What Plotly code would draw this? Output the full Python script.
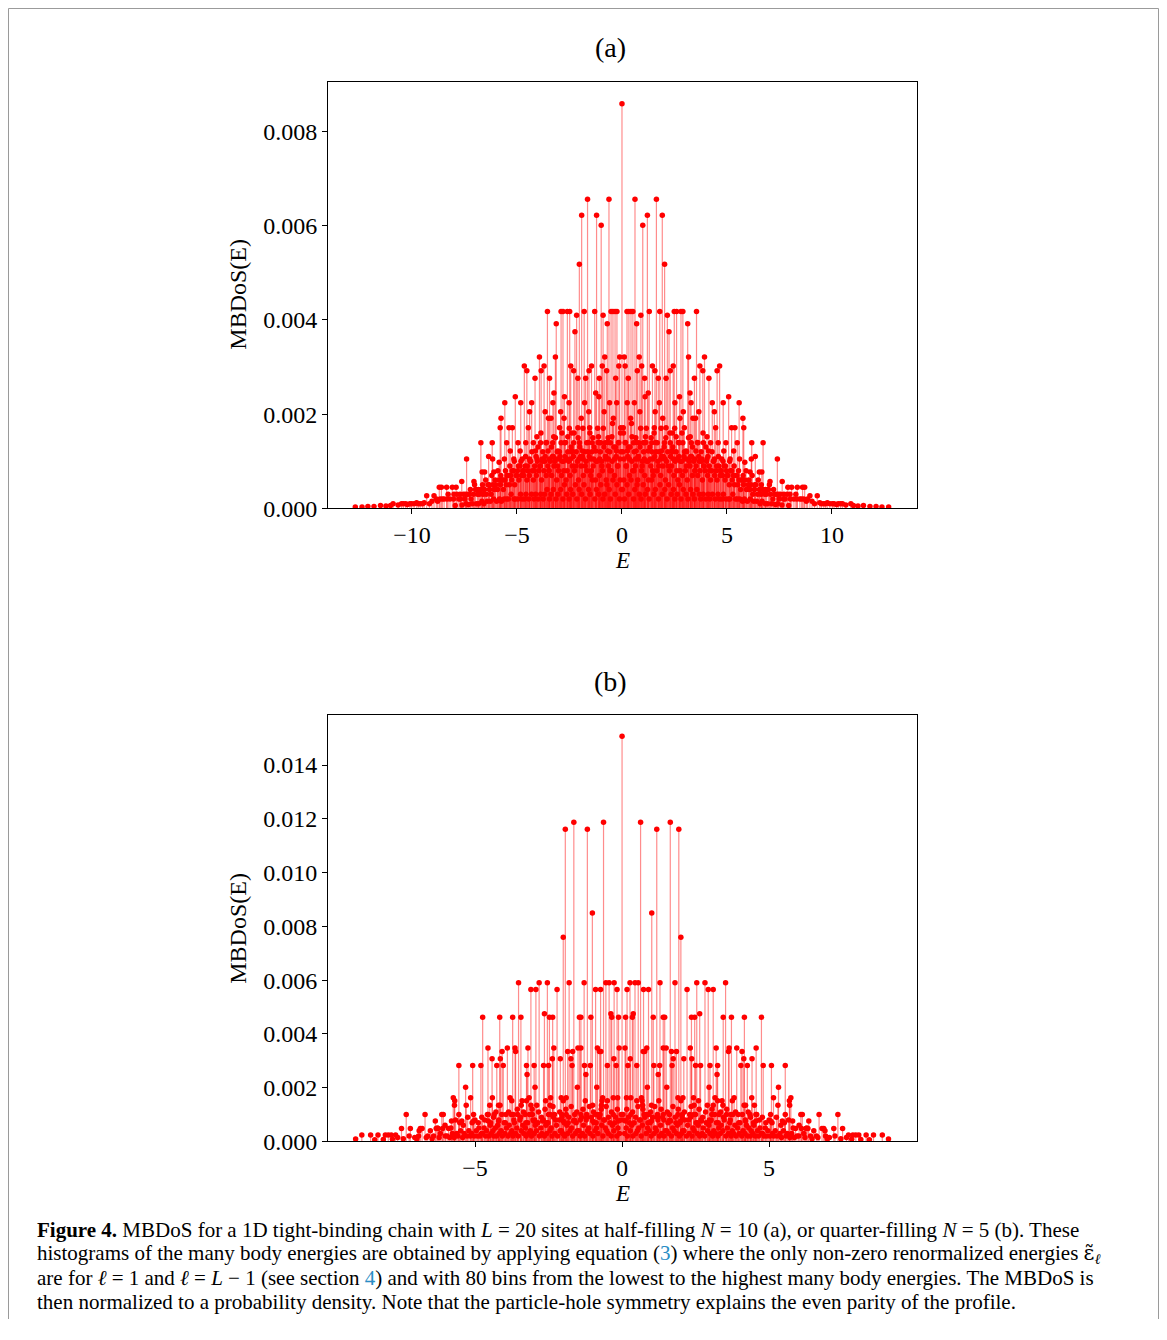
import plotly.graph_objects as go

# ---------------- data (positive-E half; profile is even) -------------
# Panel (a): L=20, N=10
a_center_e = [0.0]
a_center_v = [0.00859]
a_levels = [0.00656, 0.00622, 0.00601, 0.00518, 0.00418, 0.00410, 0.00392, 0.00375,
            0.00321, 0.00302, 0.00292, 0.00276, 0.00245, 0.00237, 0.00224, 0.00205,
            0.00191, 0.00171, 0.00160, 0.00152, 0.00139, 0.00122, 0.00110, 0.00105,
            0.00098, 0.00077, 0.00057, 0.00045, 0.00027, 0.00010, 0.00006, 0.00004, 0.00003]
a_positions = [
    [0.62, 1.64],
    [1.21, 1.92],
    [0.99],
    [2.03],
    [0.24, 0.33, 0.43, 0.52, 1.30, 1.80, 2.49, 2.60, 2.81, 2.90, 3.55],
    [0.90, 2.16],
    [0.70, 3.13],
    [2.24],
    [0.11, 0.82, 3.17, 3.93],
    [0.15, 0.94, 1.45, 2.44, 3.71, 4.65],
    [0.73, 1.57, 2.30, 3.85, 4.53],
    [0.30, 1.08, 1.73, 2.10, 3.45, 4.14],
    [1.25, 3.24],
    [1.10, 2.74, 5.08],
    [0.25, 0.59, 1.78, 2.52, 3.29, 4.30, 4.82, 5.58],
    [0.85, 1.58, 2.92, 3.66, 4.40],
    [0.41, 1.94, 2.76, 3.38, 3.50, 5.76],
    [0.06, 1.54, 2.10, 2.97, 4.46, 5.22, 5.38, 5.80],
    [2.40, 3.86],
    [0.48, 1.12, 2.58, 3.25, 4.05],
    [0.15, 0.55, 0.80, 1.02, 1.42, 1.68, 2.02, 2.30, 2.72, 2.90, 3.30, 3.62, 3.88,
     4.22, 4.58, 4.95, 5.49, 6.18, 6.72],
    [0.26, 0.68, 1.25, 1.88, 2.38, 3.05, 3.52, 4.12, 4.85, 5.32],
    [6.35],
    [0.10, 0.35, 0.65, 0.76, 1.06, 1.35, 1.48, 1.85, 2.05, 2.45, 2.62, 3.00, 3.15,
     3.45, 3.80, 4.05, 4.40, 4.75, 5.15, 5.60, 6.16, 7.40],
    [5.85],
    [6.10, 6.54, 6.66],
    [7.05, 7.63],
    [7.90, 8.08, 8.35, 8.60, 8.70],
    [8.95, 9.30],
    [9.50, 9.70, 9.90, 10.10, 10.30, 10.50, 10.90],
    [11.50],
    [12.10],
    [12.70],
]
# dense low "carpet" of panel (a), values in units of 1e-4
a_mid_e = [
    0.07, 0.19, 0.31, 0.45, 0.57, 0.66, 0.77, 0.89, 0.96, 1.07,
    1.16, 1.24, 1.39, 1.46, 1.53, 1.63, 1.75, 1.86, 1.97, 2.09,
    2.20, 2.28, 2.40, 2.51, 2.61, 2.69, 2.79, 2.86, 2.98, 3.07,
    3.17, 3.28, 3.36, 3.47, 3.59, 3.68, 3.77, 3.89, 4.00, 4.09,
    4.18, 4.29, 4.38, 4.51, 4.59, 4.70, 4.81, 4.93, 5.01, 5.13,
    5.23, 5.34, 5.47, 5.55, 5.68, 5.77, 5.91, 6.04, 6.20, 6.33,
    6.49, 6.64, 6.84, 7.02, 7.22, 7.45, 7.71, 8.00, 8.33, 8.66,
]
a_mid_v = [
    16, 9, 13, 18, 8, 15, 11, 17, 9, 14,
    17, 10, 15, 8, 16, 12, 9, 17, 11, 15,
    9, 16, 12, 17, 8, 14, 10, 16, 12, 9,
    15, 11, 13, 8, 14, 10, 12, 9, 13, 11,
    8, 12, 10, 9, 11, 8, 10, 9, 7, 10,
    8, 9, 7, 8, 6, 7, 8, 6, 7, 5,
    6, 5, 4, 5, 4, 3, 3, 3, 2, 2,
]
a_carpet_e = [
    0.04, 0.09, 0.17, 0.21, 0.28, 0.36, 0.39, 0.47, 0.51, 0.58,
    0.64, 0.68, 0.75, 0.79, 0.86, 0.93, 0.97, 1.03, 1.08, 1.14,
    1.19, 1.26, 1.33, 1.37, 1.43, 1.49, 1.56, 1.61, 1.67, 1.71,
    1.77, 1.84, 1.88, 1.95, 2.01, 2.07, 2.12, 2.18, 2.26, 2.31,
    2.36, 2.42, 2.47, 2.54, 2.58, 2.66, 2.71, 2.77, 2.84, 2.88,
    2.95, 3.02, 3.08, 3.11, 3.19, 3.24, 3.31, 3.35, 3.42, 3.48,
    3.53, 3.61, 3.66, 3.72, 3.78, 3.83, 3.91, 3.96, 4.03, 4.08,
    4.16, 4.22, 4.27, 4.35, 4.41, 4.48, 4.53, 4.61, 4.68, 4.72,
    4.79, 4.86, 4.91, 4.98, 5.04, 5.11, 5.17, 5.25, 5.31, 5.36,
    5.44, 5.52, 5.57, 5.65, 5.71, 5.79, 5.86, 5.93, 6.01, 6.08,
    6.14, 6.23, 6.31, 6.38, 6.46, 6.55, 6.62, 6.71, 6.79, 6.88,
    6.97, 7.08, 7.19, 7.27, 7.36, 7.48, 7.55, 7.69, 7.77, 7.86,
    8.02, 8.19, 8.28, 8.47, 8.55, 8.78, 8.84, 9.05, 9.17, 9.42,
    9.61, 9.78, 10.02, 10.22, 10.41, 10.66, 11.02, 11.24, 11.81, 12.38,
]
a_carpet_v = [
    12, 6, 14, 9, 11, 7, 13, 10, 8, 12,
    9, 14, 6, 11, 13, 8, 10, 12, 7, 14,
    10, 6, 13, 9, 12, 7, 11, 14, 8, 10,
    12, 7, 11, 9, 13, 6, 10, 12, 8, 11,
    9, 13, 7, 10, 12, 6, 11, 8, 10, 7,
    11, 8, 12, 6, 10, 9, 11, 7, 10, 8,
    9, 7, 11, 8, 10, 6, 9, 8, 10, 7,
    9, 6, 8, 10, 7, 8, 6, 9, 7, 8,
    7, 9, 6, 8, 7, 5, 8, 6, 7, 5,
    7, 5, 6, 4, 6, 5, 6, 4, 5, 4,
    5, 3, 4, 5, 3, 4, 3, 4, 3, 3,
    4, 3, 2, 3, 3, 2, 3, 2, 2, 3,
    2, 2, 3, 2, 2, 1.5, 2, 1.5, 1, 1.2,
    1, 1.2, 1, 0.8, 1, 0.7, 0.6, 0.5, 0.4, 0.3,
]
a_floor_e = [
    0.02, 0.12, 0.24, 0.32, 0.43, 0.55, 0.61, 0.72, 0.83, 0.91,
    1.01, 1.11, 1.22, 1.29, 1.41, 1.52, 1.59, 1.74, 1.81, 1.92,
    2.04, 2.15, 2.22, 2.34, 2.45, 2.52, 2.63, 2.74, 2.81, 2.92,
    3.05, 3.14, 3.27, 3.38, 3.45, 3.57, 3.69, 3.75, 3.87, 3.99,
    4.11, 4.19, 4.31, 4.44, 4.57, 4.64, 4.76, 4.83, 4.95, 5.08,
    5.14, 5.28, 5.41, 5.49, 5.61, 5.74, 5.83, 5.97, 6.11, 6.27,
    6.42, 6.58, 6.67, 6.83, 6.93, 7.13, 7.31, 7.42, 7.62, 7.94,
]
a_floor_v = [
    4, 2, 5, 3, 6, 2, 4, 5, 3, 2,
    5, 3, 4, 2, 6, 3, 4, 2, 5, 3,
    4, 2, 5, 3, 4, 2, 3, 5, 2, 4,
    3, 2, 4, 3, 2, 4, 3, 2, 3, 2,
    3, 2, 3, 2, 3, 2, 2, 3, 2, 2,
    2, 3, 2, 2, 2, 1.5, 2, 1.5, 2, 1.5,
    1.5, 1, 1.5, 1, 1, 1, 0.8, 1, 0.7, 0.6,
]

# Panel (b): L=20, N=5
b_center_e = [0.0]
b_center_v = [0.01507]
b_levels = [0.01187, 0.01161, 0.00850, 0.00760, 0.00590, 0.00565, 0.00475, 0.00462,
            0.00348, 0.00335, 0.00308, 0.00283, 0.00249, 0.00202, 0.00163, 0.00151,
            0.00135, 0.00100, 0.00076, 0.00048, 0.00024, 0.00009]
b_positions = [
    [0.63, 1.64],
    [1.18, 1.93],
    [1.01],
    [2.00],
    [0.27, 0.44, 0.55, 1.29, 1.80, 2.54, 2.82, 3.52],
    [0.17, 0.73, 0.90, 2.21, 2.93, 3.10],
    [0.38, 2.64],
    [0.12, 0.35, 1.06, 1.40, 1.45, 2.36, 2.47, 3.44, 3.72, 4.16, 4.74],
    [0.10, 0.84, 1.40, 1.50, 2.32, 3.20, 3.64, 3.90, 4.56],
    [0.72, 0.77, 1.68, 1.85, 3.62, 4.08],
    [0.28, 1.74, 2.10, 2.37, 4.14, 4.42],
    [0.20, 0.50, 1.08, 1.28, 1.70, 2.50, 2.67, 2.99, 3.25, 4.04, 4.26, 4.80, 5.08, 5.55],
    [1.23, 3.23],
    [0.86, 1.52, 2.96, 5.32],
    [0.15, 0.30, 0.66, 1.90, 2.07, 2.43, 3.16, 3.81, 4.41, 5.15, 5.74],
    [0.50, 0.68, 1.25, 2.00, 2.60, 3.25, 3.40, 3.75, 5.69],
    [0.70, 1.00, 2.45, 2.90, 3.10, 3.43, 4.15, 4.20, 4.50, 5.30, 5.70],
    [0.30, 0.75, 0.90, 1.20, 1.40, 1.90, 2.05, 2.30, 2.50, 3.05, 3.30, 3.55, 3.70,
     3.95, 4.35, 4.55, 5.05, 5.55, 6.08, 6.13, 6.70, 7.34],
    [0.12, 1.00, 1.65, 2.00, 2.70, 3.00, 4.20, 4.55, 5.05, 5.45, 5.80, 6.35],
    [5.90, 6.10, 6.25, 6.32, 6.80, 6.86, 7.20, 7.50],
    [7.70, 7.85, 7.95, 8.05, 8.30, 8.55, 8.85],
    [9.06],
]
b_mid_e = [
    0.03, 0.16, 0.25, 0.36, 0.46, 0.54, 0.62, 0.71, 0.80, 0.88,
    0.97, 1.11, 1.20, 1.33, 1.42, 1.54, 1.61, 1.73, 1.83, 1.91,
    2.04, 2.12, 2.26, 2.35, 2.44, 2.55, 2.62, 2.74, 2.84, 2.97,
    3.06, 3.15, 3.27, 3.35, 3.45, 3.56, 3.68, 3.77, 3.86, 3.97,
    4.09, 4.19, 4.29, 4.37, 4.47, 4.58, 4.67, 4.77, 4.89, 5.00,
    5.10, 5.25, 5.40, 5.52, 5.66, 5.82, 6.02, 6.28, 6.52, 6.90,
]
b_mid_v = [
    10, 12, 7, 11, 9, 13, 8, 12, 10, 7,
    11, 13, 9, 12, 8, 11, 10, 13, 7, 12,
    9, 11, 8, 13, 10, 7, 12, 9, 11, 8,
    12, 10, 7, 11, 9, 12, 8, 10, 11, 7,
    10, 8, 11, 9, 7, 10, 8, 9, 7, 8,
    7, 9, 6, 7, 8, 5, 6, 5, 4, 4,
]
b_carpet_e = [
    0.05, 0.14, 0.22, 0.33, 0.41, 0.52, 0.60, 0.69, 0.78, 0.87,
    0.95, 1.04, 1.13, 1.22, 1.31, 1.38, 1.47, 1.56, 1.62, 1.72,
    1.81, 1.88, 1.97, 2.06, 2.14, 2.23, 2.33, 2.41, 2.52, 2.59,
    2.68, 2.76, 2.86, 2.95, 3.03, 3.12, 3.21, 3.29, 3.37, 3.47,
    3.58, 3.66, 3.75, 3.84, 3.93, 4.01, 4.11, 4.23, 4.31, 4.39,
    4.48, 4.61, 4.69, 4.78, 4.87, 4.96, 5.12, 5.21, 5.37, 5.49,
    5.62, 5.77, 5.95, 6.18, 6.41, 6.61, 6.92, 7.05, 7.24, 7.63,
]
b_carpet_v = [
    8, 5, 9, 6, 7, 4, 8, 6, 9, 5,
    7, 9, 5, 8, 6, 9, 4, 7, 8, 5,
    9, 6, 7, 4, 8, 6, 9, 5, 7, 6,
    8, 5, 7, 6, 8, 4, 7, 5, 6, 8,
    5, 7, 4, 6, 5, 7, 4, 6, 5, 4,
    6, 4, 5, 3, 5, 4, 3, 4, 3, 4,
    3, 3, 2, 3, 2, 2, 2, 1.5, 2, 1.5,
]
b_floor_e = [
    0.09, 0.18, 0.28, 0.37, 0.47, 0.57, 0.65, 0.82, 0.92, 0.99,
    1.09, 1.17, 1.27, 1.35, 1.43, 1.52, 1.59, 1.68, 1.77, 1.85,
    1.95, 2.02, 2.11, 2.19, 2.28, 2.38, 2.45, 2.56, 2.64, 2.73,
    2.81, 2.91, 2.99, 3.08, 3.17, 3.26, 3.34, 3.43, 3.53, 3.62,
    3.71, 3.79, 3.88, 3.98, 4.07, 4.18, 4.27, 4.36, 4.45, 4.53,
    4.64, 4.74, 4.83, 4.92, 5.03, 5.16, 5.27, 5.42, 5.58, 5.71,
    5.86, 6.01, 6.22, 6.46, 6.66, 6.98, 7.44, 7.81, 8.12, 8.41,
]
b_floor_v = [
    3, 2, 4, 2, 3, 5, 2, 3, 4, 2,
    3, 4, 2, 3, 2, 4, 3, 2, 4, 3,
    2, 3, 4, 2, 3, 2, 4, 3, 2, 3,
    2, 4, 3, 2, 3, 2, 3, 4, 2, 3,
    2, 3, 2, 3, 2, 3, 2, 2, 3, 2,
    2, 3, 2, 2, 2, 2, 2, 1.5, 2, 1.5,
    1.5, 2, 1.5, 1, 1.5, 1, 1, 0.8, 0.7, 0.6,
]

a_xticks = [-10, -5, 0, 5, 10]
a_xticktext = ["\u221210", "\u22125", "0", "5", "10"]
a_yticks = [0.000, 0.002, 0.004, 0.006, 0.008]
b_xticks = [-5, 0, 5]
b_xticktext = ["\u22125", "0", "5"]
b_yticks = [0.000, 0.002, 0.004, 0.006, 0.008, 0.010, 0.012, 0.014]


# ---------------- assemble series (mirror E -> -E: particle-hole symmetry) -------------
def assemble(center_e, center_v, levels, positions, carpets):
    e, v = list(center_e), list(center_v)
    for lev, pos in zip(levels, positions):
        for p in pos:
            e += [p, -p]
            v += [lev, lev]
    for ce, cv in carpets:
        for p, q in zip(ce, cv):
            e += [p, -p]
            v += [q * 1e-4, q * 1e-4]
    return e, v


a_e, a_v = assemble(a_center_e, a_center_v, a_levels, a_positions,
                    [(a_mid_e, a_mid_v), (a_carpet_e, a_carpet_v), (a_floor_e, a_floor_v)])
b_e, b_v = assemble(b_center_e, b_center_v, b_levels, b_positions,
                    [(b_mid_e, b_mid_v), (b_carpet_e, b_carpet_v), (b_floor_e, b_floor_v)])


def stem_xy(e, v):
    xs, ys = [], []
    for p, q in zip(e, v):
        xs += [p, p, None]
        ys += [0, q, None]
    return xs, ys


# the page body keeps the browser's default 8px margin: size the figure to fit inside it
OFF = 8
W, H = 1167 - 2 * OFF, 1340 - 2 * OFF
VS = 1.0085  # small vertical correction observed between layout and capture
FONT = "Liberation Serif"
fig = go.Figure()

for e, v, xa, ya in [(a_e, a_v, "x", "y"), (b_e, b_v, "x2", "y2")]:
    sx, sy = stem_xy(e, v)
    fig.add_trace(go.Scatter(x=sx, y=sy, mode="lines", xaxis=xa, yaxis=ya,
                             line=dict(color="rgba(255,0,0,0.45)", width=1.2),
                             hoverinfo="skip", showlegend=False))
    fig.add_trace(go.Scatter(x=e, y=v, mode="markers", xaxis=xa, yaxis=ya,
                             marker=dict(color="#ff0000", size=5.5, line=dict(width=0)),
                             showlegend=False))


def px_x(x):
    return (x - OFF) / W


def px_y(y):
    return min(1.0, max(0.0, 1 - (y * VS - OFF) / H))


axis_common = dict(showline=True, mirror=True, linecolor="black", linewidth=1,
                   ticks="outside", ticklen=5, tickwidth=1, tickcolor="black",
                   showgrid=False, zeroline=False,
                   tickfont=dict(family=FONT, size=24, color="black"))

fig.update_layout(
    width=W, height=H, autosize=False,
    margin=dict(l=0, r=0, t=0, b=0),
    paper_bgcolor="white", plot_bgcolor="white",
    xaxis=dict(domain=[px_x(328), px_x(917)], range=[-14.0, 14.05], anchor="y",
               tickvals=a_xticks, ticktext=a_xticktext, **axis_common),
    yaxis=dict(domain=[px_y(509), px_y(82)], range=[0, 0.00905], anchor="x",
               tickvals=a_yticks, ticktext=[f"{t:.3f}" for t in a_yticks], **axis_common),
    xaxis2=dict(domain=[px_x(328), px_x(917)], range=[-10.0, 10.03], anchor="y2",
                tickvals=b_xticks, ticktext=b_xticktext, **axis_common),
    yaxis2=dict(domain=[px_y(1143), px_y(716)], range=[0, 0.01586], anchor="x2",
                tickvals=b_yticks, ticktext=[f"{t:.3f}" for t in b_yticks], **axis_common),
)

ann = []
def add_text(x, y, text, size, angle=0, xanchor="center", yanchor="middle", color="black"):
    ann.append(dict(x=px_x(x), y=px_y(y), xref="paper", yref="paper", text=text,
                    showarrow=False, textangle=angle, xanchor=xanchor, yanchor=yanchor,
                    font=dict(family=FONT, size=size, color=color)))

add_text(610, 47, "(a)", 28)
add_text(610, 682, "(b)", 28)
add_text(238, 295, "MBDoS(E)", 24, angle=-90)
add_text(238, 930, "MBDoS(E)", 24, angle=-90)
add_text(622, 561, "<i>E</i>", 23)
add_text(622, 1195, "<i>E</i>", 23)

BLUE = "#2a8dc5"
cap = [
    "<b>Figure 4.</b> MBDoS for a 1D tight-binding chain with <i>L</i> = 20 sites at half-filling "
    "<i>N</i> = 10 (a), or quarter-filling <i>N</i> = 5 (b). These",
    "histograms of the many body energies are obtained by applying equation "
    f"(<span style='color:{BLUE}'>3</span>) where the only non-zero renormalized energies "
    "<span style='font-family:DejaVu Serif'>\u03b5\u0303</span><sub><i>\u2113</i></sub>",
    "are for <i>\u2113</i> = 1 and <i>\u2113</i> = <i>L</i> \u2212 1 (see section "
    f"<span style='color:{BLUE}'>4</span>) and with 80 bins from the lowest to the highest "
    "many body energies. The MBDoS is",
    "then normalized to a probability density. Note that the particle-hole symmetry explains "
    "the even parity of the profile.",
]
for i, line in enumerate(cap):
    add_text(35, 1232 + 24 * i, line, 21, xanchor="left")

fig.update_layout(annotations=ann)

border = dict(color="#9a9a9a", width=1)
xl, xr, yt = px_x(8.5), px_x(1158.5), 1 - 0.5 / H
fig.update_layout(shapes=[
    dict(type="line", xref="paper", yref="paper", x0=xl, x1=xl, y0=0, y1=yt, line=border),
    dict(type="line", xref="paper", yref="paper", x0=xl, x1=xr, y0=yt, y1=yt, line=border),
    dict(type="line", xref="paper", yref="paper", x0=xr, x1=xr, y0=0, y1=yt, line=border),
])

fig.write_html("out.html")
